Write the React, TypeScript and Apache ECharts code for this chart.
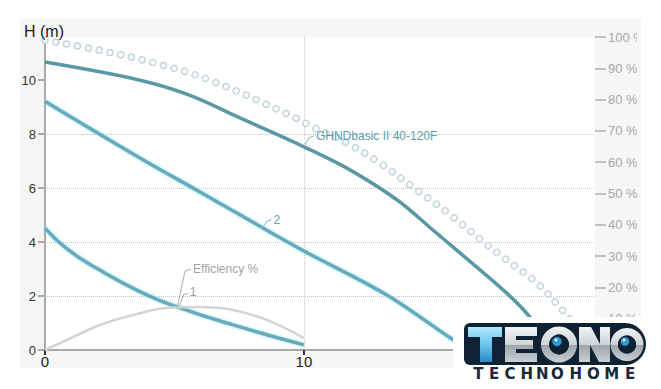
import React, { useEffect, useRef } from "react";
import * as echarts from "echarts";

// Axis ticks
const xTickValues = [0, 10, 20];
const xLabelValues = [0, 10];
const hTickValues = [0, 2, 4, 6, 8, 10];
const effTickValues = [10, 20, 30, 40, 50, 60, 70, 80, 90, 100];

// Dotted (circles) max curve
const maxCurveQ = [0, 2.08, 4.25, 6.37, 9.46, 10.35, 11.66, 12.93, 14.2, 15.52, 16.8, 17.68, 19.0, 19.8, 20.5, 21.1];
const maxCurveH = [11.48, 11.11, 10.63, 10.0, 8.7, 8.26, 7.67, 6.93, 6.04, 5.11, 4.11, 3.44, 2.48, 1.67, 0.9, 0.2];

// GHNDbasic II 40-120F (speed 3)
const mainQ = [0, 3.67, 5.6, 7.53, 10, 11.66, 13.6, 15.1, 15.75, 17.84, 18.73, 19.4];
const mainH = [10.67, 10.0, 9.44, 8.6, 7.53, 6.74, 5.56, 4.35, 3.82, 2.1, 1.22, 0.3];

// Speed 2
const q2 = [0, 1.08, 4, 6, 8, 10, 13.2, 15.6, 16.3];
const h2 = [9.22, 8.59, 6.93, 5.85, 4.75, 3.67, 2.04, 0.48, 0.05];

// Speed 1
const q1 = [0, 0.85, 2.1, 3.78, 5.1, 7.26, 10];
const h1 = [4.52, 3.75, 2.97, 2.11, 1.6, 0.93, 0.19];

// Efficiency %
const effQ = [0, 0.85, 2.12, 3.4, 4.71, 5.98, 7.26, 8.57, 10];
const effV = [0, 3.2, 8.0, 11.2, 13.4, 13.7, 12.8, 9.6, 3.8];

// Curve labels and their anchor points on the curves
const labelTexts = ["GHNDbasic II 40-120F", "2", "1", "Efficiency %"];
const labelAnchorQ = [10, 8.4, 5.2, 5.1];
const labelAnchorV = [7.53, 4.53, 1.65, 13.4];

export default function App() {
  const ref = useRef<HTMLDivElement>(null);

  useEffect(() => {
    document.body.style.margin = "0";
    const chart = echarts.init(ref.current!, null, { renderer: "svg" });
    const zip = (a: number[], b: number[]) => a.map((v, i) => [v, b[i]]);
    const font = "Liberation Sans, Arial, sans-serif";

    const dotted = (color: string, width: number) => ({
      type: "line",
      data: zip(maxCurveQ, maxCurveH),
      smooth: 0.4,
      symbol: "none",
      silent: true,
      lineStyle: { color, width, type: [0.01, 11], cap: "round" },
    });

    const option: any = {
      animation: false,
      grid: {
        left: 45,
        top: 37,
        right: 66,
        bottom: 39,
        show: true,
        backgroundColor: "#ffffff",
        borderWidth: 0,
      },
      xAxis: {
        type: "value",
        min: 0,
        max: 21.24,
        interval: 10,
        axisLine: { show: true, lineStyle: { color: "#aaaaaa", width: 2 } },
        axisTick: { show: true, length: 5, lineStyle: { color: "#333333", width: 2 }, customValues: xTickValues },
        axisLabel: { color: "#222222", fontSize: 15, fontFamily: font, margin: 4, customValues: xLabelValues },
        splitLine: {
          show: true,
          showMinLine: false,
          showMaxLine: false,
          lineStyle: { color: "#c4c4c4", type: "dotted", width: 1 },
        },
      },
      yAxis: [
        {
          type: "value",
          min: 0,
          max: 11.6,
          interval: 2,
          axisLine: { show: true, lineStyle: { color: "#aaaaaa", width: 2 } },
          axisTick: { show: true, length: 7, lineStyle: { color: "#aaaaaa", width: 2 }, customValues: hTickValues },
          axisLabel: {
            color: "#333333",
            fontSize: 13,
            fontFamily: font,
            margin: 9,
            padding: [0, 0, 5, 0],
            customValues: hTickValues,
          },
          splitLine: {
            show: true,
            showMinLine: false,
            showMaxLine: false,
            lineStyle: { color: "#c4c4c4", type: "dotted", width: 1 },
          },
        },
        {
          type: "value",
          position: "right",
          min: 0,
          max: 100,
          interval: 10,
          axisLine: { show: false },
          axisTick: { show: true, length: 11, lineStyle: { color: "#b0b0b0", width: 1.5 }, customValues: effTickValues },
          axisLabel: {
            color: "#a8a8a8",
            fontSize: 13,
            fontFamily: font,
            margin: 13,
            padding: [0, 0, 6, 0],
            formatter: "{value} %",
            customValues: effTickValues,
          },
          splitLine: { show: false },
        },
      ],
      series: [
        dotted("#c2d6db", 7.5),
        dotted("#ffffff", 4.5),
        {
          type: "line",
          data: zip(mainQ, mainH),
          smooth: 0.35,
          symbol: "none",
          lineStyle: { color: "#5b98a6", width: 3.5 },
        },
        {
          type: "line",
          data: zip(q2, h2),
          smooth: 0.35,
          symbol: "none",
          lineStyle: { color: "#66aabb", width: 3.5, shadowBlur: 3, shadowColor: "rgba(140,225,240,0.9)" },
        },
        {
          type: "line",
          data: zip(q1, h1),
          smooth: 0.5,
          symbol: "none",
          lineStyle: { color: "#66aabb", width: 3.5, shadowBlur: 3, shadowColor: "rgba(140,225,240,0.9)" },
        },
        {
          type: "line",
          yAxisIndex: 1,
          data: zip(effQ, effV),
          smooth: 0.4,
          symbol: "none",
          lineStyle: { color: "#d4d4d4", width: 2.5 },
        },
      ],
    };

    chart.setOption(option);

    // label leaders, computed through the chart's own scales
    const seriesForLabel = [2, 3, 4, 5];
    const leaderOffsets = [
      [[5, -9], [10, -11], [12, -11]],
      [[5, -7], [9, -8], [11, -8]],
      [[4, -11], [8, -12], [10, -13]],
      [[8, -37], [14, -39], [16, -39]],
    ];
    const leaderColors = ["#86b4bf", "#86b4bf", "#aaaaaa", "#aaaaaa"];
    const textColors = ["#5f9dac", "#66aabb", "#9a9a9a", "#a3a3a3"];
    const graphics: any[] = [];
    labelTexts.forEach((t, i) => {
      const p = chart.convertToPixel({ seriesIndex: seriesForLabel[i] }, [labelAnchorQ[i], labelAnchorV[i]]) as number[];
      const o = leaderOffsets[i];
      graphics.push({
        type: "polyline",
        z: 50,
        silent: true,
        shape: { points: [p, [p[0] + o[0][0], p[1] + o[0][1]], [p[0] + o[1][0], p[1] + o[1][1]]] },
        style: { stroke: leaderColors[i], lineWidth: 1, fill: null },
      });
      graphics.push({
        type: "text",
        z: 50,
        silent: true,
        x: p[0] + o[2][0],
        y: p[1] + o[2][1],
        style: {
          text: t,
          fill: textColors[i],
          font: `12px ${font}`,
          verticalAlign: "middle",
          align: "left",
        },
      });
    });

    // axis title
    graphics.push({
      type: "text",
      z: 50,
      x: 24,
      y: 31,
      style: { text: "H (m)", fill: "#222222", font: `16px ${font}`, verticalAlign: "middle" },
    });

    // right clipping of the panel
    graphics.push({ type: "rect", z: 90, silent: true, shape: { x: 637, y: 18, width: 4, height: 300 }, style: { fill: "#f6f6f6" } });
    graphics.push({ type: "rect", z: 90, silent: true, shape: { x: 641, y: 0, width: 20, height: 389 }, style: { fill: "#ffffff" } });

    // logo
    const navy = "#0e2233";
    const silver = new echarts.graphic.LinearGradient(0, 0, 0, 1, [
      { offset: 0, color: "#f2f4f6" },
      { offset: 0.5, color: "#cfd4d8" },
      { offset: 0.52, color: "#9ca4aa" },
      { offset: 1, color: "#c9cfd4" },
    ]);
    const blue = new echarts.graphic.LinearGradient(0, 0, 0, 1, [
      { offset: 0, color: "#b0e8fb" },
      { offset: 0.5, color: "#6cc6ef" },
      { offset: 1, color: "#2a88c6" },
    ]);
    graphics.push({ type: "rect", z: 90, silent: true, shape: { x: 453, y: 317, width: 208, height: 72 }, style: { fill: "#ffffff" } });
    graphics.push({ type: "rect", z: 91, silent: true, shape: { x: 464, y: 323, width: 182, height: 42, r: [6, 21, 21, 6] }, style: { fill: navy } });
    graphics.push({
      type: "polygon", z: 92, silent: true,
      shape: { points: [[468, 327], [502, 327], [502, 337], [492, 337], [492, 362], [480, 362], [480, 337], [468, 337]] },
      style: { fill: blue },
    });
    graphics.push({
      type: "polygon", z: 92, silent: true,
      shape: { points: [[505, 327], [537, 327], [537, 336], [516, 336], [516, 340], [533, 340], [533, 349], [516, 349], [516, 353], [537, 353], [537, 362], [505, 362]] },
      style: { fill: silver },
    });
    graphics.push({
      type: "polygon", z: 92, silent: true,
      shape: { points: [[579, 327], [591, 327], [600, 344], [600, 327], [610, 327], [610, 362], [599, 362], [590, 345], [590, 362], [579, 362]] },
      style: { fill: silver },
    });
    [[559, 344.5, 18], [627, 344.5, 16.5]].forEach(([cx, cy, r]) => {
      graphics.push({ type: "ring", z: 92, silent: true, shape: { cx, cy, r, r0: r * 0.55 }, style: { fill: silver } });
      graphics.push({ type: "circle", z: 92, silent: true, shape: { cx, cy, r: r * 0.55 }, style: { fill: navy } });
      graphics.push({ type: "circle", z: 93, silent: true, shape: { cx: cx - 2, cy: cy - 3, r: r * 0.26 }, style: { fill: "#2f98d4" } });
      graphics.push({ type: "circle", z: 94, silent: true, shape: { cx: cx - 3, cy: cy - 4.5, r: 1.5 }, style: { fill: "#dff3ff" } });
    });
    const sub = ["T", "E", "C", "H", "N", "O", "H", "O", "M", "E"];
    const subX = [478.3, 494, 510, 526.7, 542.3, 557.3, 575.7, 593.3, 611.7, 630];
    sub.forEach((ch, i) => {
      graphics.push({
        type: "text", z: 92, silent: true, x: subX[i], y: 373.5,
        style: { text: ch, fill: "#17293a", font: "bold 15px DejaVu Sans, sans-serif", align: "center", verticalAlign: "middle" },
      });
    });

    chart.setOption({ graphic: { elements: graphics } });

    return () => chart.dispose();
  }, []);

  return (
    <div style={{ position: "relative", width: 661, height: 389, background: "#ffffff" }}>
      <div style={{ position: "absolute", left: 20, top: 18, width: 620, height: 350, background: "#f6f6f6" }} />
      <div ref={ref} style={{ position: "absolute", left: 0, top: 0, width: 661, height: 389 }} />
    </div>
  );
}
